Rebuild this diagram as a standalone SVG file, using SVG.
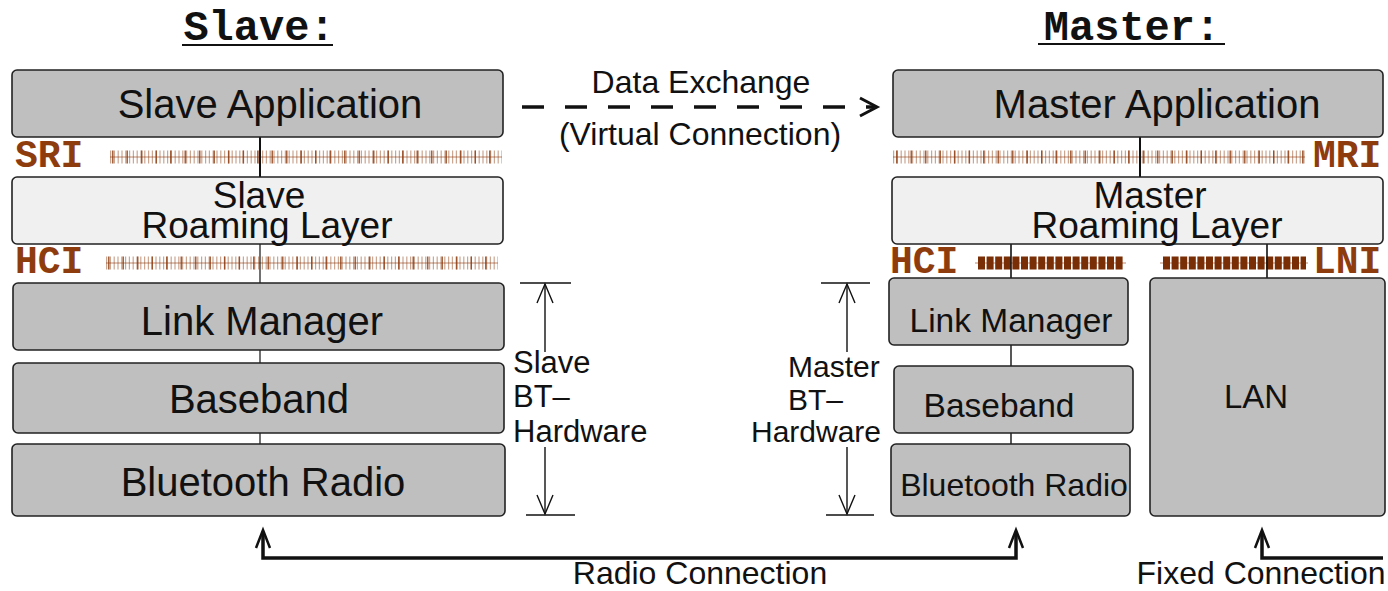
<svg xmlns="http://www.w3.org/2000/svg" width="1388" height="591" viewBox="0 0 1388 591">
<style>
.box{fill:#bfbfbf;stroke:#222;stroke-width:1.6}
.light{fill:#f0f0f0;stroke:#222;stroke-width:1.6}
.t{font-family:"Liberation Sans",Arial,Helvetica,sans-serif;fill:#111;text-anchor:middle}
.s{font-family:"Liberation Sans",Arial,Helvetica,sans-serif;fill:#111}
.title{font-family:"Liberation Mono","Courier New",monospace;font-weight:bold;font-size:42px;fill:#111;text-anchor:middle}
.lbl{font-family:"Liberation Mono","Courier New",monospace;font-weight:bold;font-size:38px;fill:#8e3b0e}
.ln{fill:none;stroke:#111}
.bar1{stroke:#8e3b0e;stroke-width:13;stroke-dasharray:1.2 2.6;opacity:0.45}
.bar1b{stroke:#8e3b0e;stroke-width:13;stroke-dasharray:1.5 13;opacity:0.8}
.barline{stroke:#8e3b0e;stroke-width:1;opacity:0.6}
.bar2{stroke:#7a2e05;stroke-width:13;stroke-dasharray:7 1.6}
</style>

<g id="titles">
<text class="title" x="259" y="40">Slave:</text>
<line x1="182" y1="45" x2="333" y2="45" stroke="#111" stroke-width="2"/>
<text class="title" x="1132" y="40">Master:</text>
<line x1="1038" y1="44" x2="1225" y2="44" stroke="#111" stroke-width="2"/>
</g>

<g id="interfaces">
<text class="lbl" x="15" y="167">SRI</text>
<line class="barline" x1="110" y1="157" x2="502" y2="157"/>
<line class="bar1" x1="110" y1="157" x2="502" y2="157"/>
<line class="bar1b" x1="112" y1="157" x2="502" y2="157"/>
<text class="lbl" x="15" y="273">HCI</text>
<line class="barline" x1="106" y1="263" x2="498" y2="263"/>
<line class="bar1" x1="106" y1="263" x2="498" y2="263"/>
<line class="bar1b" x1="108" y1="263" x2="498" y2="263"/>
<line class="barline" x1="893" y1="157" x2="1305" y2="157"/>
<line class="bar1" x1="893" y1="157" x2="1305" y2="157"/>
<line class="bar1b" x1="896" y1="157" x2="1305" y2="157"/>
<text class="lbl" x="1313" y="167">MRI</text>
<text class="lbl" x="890" y="273">HCI</text>
<line class="barline" x1="975" y1="263" x2="1126" y2="263"/>
<line class="bar2" x1="978" y1="263" x2="1124" y2="263"/>
<line class="barline" x1="1160" y1="263" x2="1308" y2="263"/>
<line class="bar2" x1="1163" y1="263" x2="1306" y2="263"/>
<text class="lbl" x="1313" y="273">LNI</text>
</g>

<g id="connectors">
<line class="ln" x1="260" y1="137" x2="260" y2="177" stroke-width="2"/>
<line class="ln" x1="260" y1="244" x2="260" y2="283" stroke-width="1.2" stroke="#444"/>
<line class="ln" x1="260" y1="350" x2="260" y2="363" stroke-width="1.2" stroke="#555"/>
<line class="ln" x1="260" y1="433" x2="260" y2="444" stroke-width="1.2" stroke="#555"/>
<line class="ln" x1="1140" y1="137" x2="1140" y2="177" stroke-width="2"/>
<line class="ln" x1="1011" y1="244" x2="1011" y2="278" stroke-width="1.6"/>
<line class="ln" x1="1267" y1="244" x2="1267" y2="278" stroke-width="1.6"/>
<line class="ln" x1="1011" y1="345" x2="1011" y2="366" stroke-width="1.4"/>
<line class="ln" x1="1011" y1="433" x2="1011" y2="444" stroke-width="1.4"/>
<line class="ln" x1="522" y1="107" x2="874" y2="107" stroke-width="3.5" stroke-dasharray="22 21"/>
<path class="ln" d="M860,98 L877,107 L860,116" stroke-width="3"/>
<path class="ln" d="M263,532 L263,558 L1016,558 L1016,532" stroke-width="3.5"/>
<path class="ln" d="M256,548 L263,530 L270,548" stroke-width="2.5"/>
<path class="ln" d="M1009,548 L1016,530 L1023,548" stroke-width="2.5"/>
<path class="ln" d="M1262,532 L1262,558 L1383,558" stroke-width="3.5"/>
<path class="ln" d="M1255,548 L1262,530 L1269,548" stroke-width="2.5"/>
<line class="ln" x1="520" y1="283" x2="571" y2="283" stroke-width="1.6"/>
<line class="ln" x1="545" y1="284" x2="545" y2="352" stroke-width="1.4"/>
<path class="ln" d="M537,303 L545,284 L553,303" stroke-width="1.4"/>
<line class="ln" x1="526" y1="515" x2="575" y2="515" stroke-width="1.6"/>
<line class="ln" x1="545" y1="447" x2="545" y2="514" stroke-width="1.4"/>
<path class="ln" d="M537,495 L545,514 L553,495" stroke-width="1.4"/>
<line class="ln" x1="821" y1="283" x2="870" y2="283" stroke-width="1.6"/>
<line class="ln" x1="847" y1="284" x2="847" y2="352" stroke-width="1.4"/>
<path class="ln" d="M839,303 L847,284 L855,303" stroke-width="1.4"/>
<line class="ln" x1="826" y1="515" x2="874" y2="515" stroke-width="1.6"/>
<line class="ln" x1="847" y1="447" x2="847" y2="514" stroke-width="1.4"/>
<path class="ln" d="M839,495 L847,514 L855,495" stroke-width="1.4"/>
</g>

<g id="labels">
<text class="t" x="701" y="93" font-size="32">Data Exchange</text>
<text class="t" x="700" y="145" font-size="32">(Virtual Connection)</text>
<text class="t" x="700" y="584" font-size="32">Radio Connection</text>
<text class="t" x="1261" y="584" font-size="32">Fixed Connection</text>
<text class="s" x="513" y="373" font-size="31">Slave</text>
<text class="s" x="513" y="407" font-size="31">BT–</text>
<text class="s" x="513" y="442" font-size="31">Hardware</text>
<text class="s" x="788" y="377" font-size="30">Master</text>
<text class="s" x="788" y="410" font-size="30">BT–</text>
<text class="s" x="751" y="442" font-size="30">Hardware</text>
</g>

<g id="slave-app"><rect class="box" x="12" y="70" width="491" height="67" rx="5"/><text class="t" x="270" y="118" font-size="40">Slave Application</text></g>
<g id="slave-roaming"><rect class="light" x="12" y="177" width="491" height="67" rx="5"/><text class="t" x="259" y="208" font-size="37">Slave</text><text class="t" x="267" y="238" font-size="37">Roaming Layer</text></g>
<g id="slave-lm"><rect class="box" x="13" y="283" width="491" height="67" rx="5"/><text class="t" x="262" y="335" font-size="40">Link Manager</text></g>
<g id="slave-bb"><rect class="box" x="13" y="363" width="491" height="70" rx="5"/><text class="t" x="259" y="413" font-size="40">Baseband</text></g>
<g id="slave-radio"><rect class="box" x="12" y="444" width="493" height="72" rx="5"/><text class="t" x="263" y="496" font-size="40">Bluetooth Radio</text></g>

<g id="master-app"><rect class="box" x="893" y="70" width="490" height="67" rx="5"/><text class="t" x="1157" y="118" font-size="40">Master Application</text></g>
<g id="master-roaming"><rect class="light" x="892" y="177" width="491" height="67" rx="5"/><text class="t" x="1150" y="208" font-size="37">Master</text><text class="t" x="1157" y="238" font-size="37">Roaming Layer</text></g>
<g id="master-lm"><rect class="box" x="889" y="278" width="239" height="67" rx="5"/><text class="t" x="1011" y="332" font-size="33.5">Link Manager</text></g>
<g id="master-bb"><rect class="box" x="894" y="366" width="239" height="67" rx="5"/><text class="t" x="999" y="417" font-size="33.5">Baseband</text></g>
<g id="master-radio"><rect class="box" x="891" y="444" width="239" height="72" rx="5"/><text class="t" x="1014" y="496" font-size="32">Bluetooth Radio</text></g>
<g id="lan"><rect class="box" x="1150" y="278" width="235" height="238" rx="5"/><text class="t" x="1256" y="408" font-size="33">LAN</text></g>
</svg>
